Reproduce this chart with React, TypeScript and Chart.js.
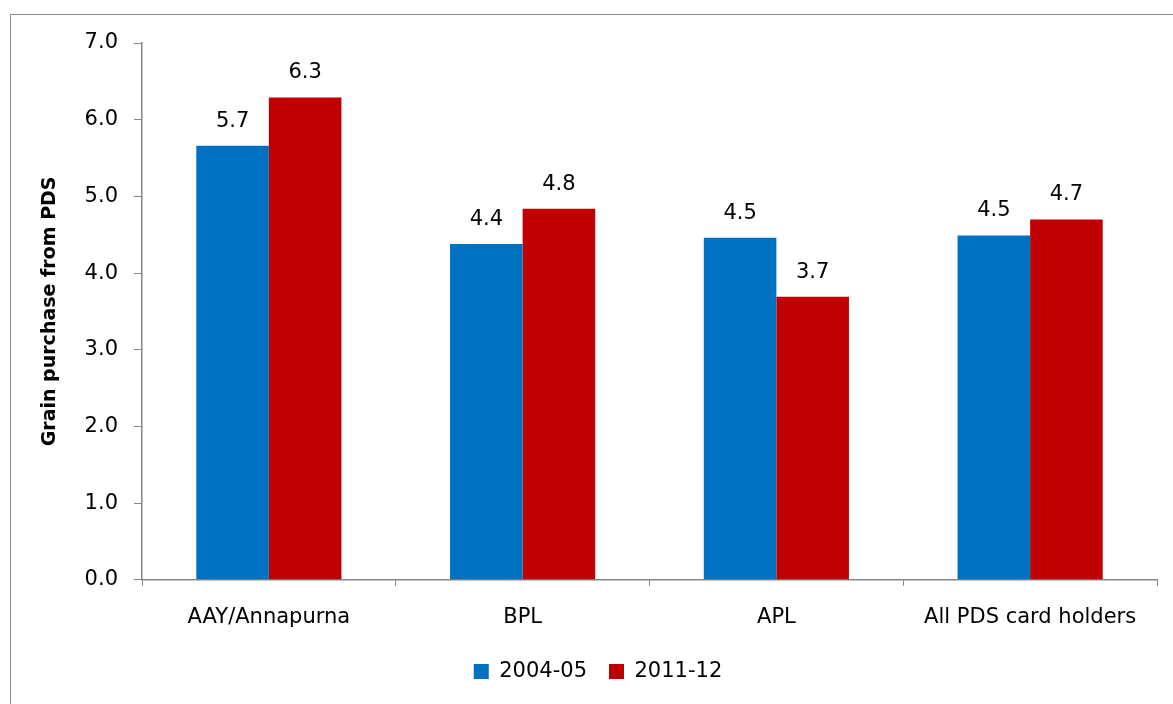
import React, { useEffect, useRef } from "react";
import { Chart, registerables } from "chart.js";

Chart.register(...registerables);

const categories = ["AAY/Annapurna", "BPL", "APL", "All PDS card holders"];
const series2004 = [5.66, 4.38, 4.46, 4.49];
const series2011 = [6.29, 4.84, 3.69, 4.7];
const seriesNames = ["2004-05", "2011-12"];
const yTicks = [0, 1, 2, 3, 4, 5, 6, 7];

const FONT = "'DejaVu Sans', sans-serif";

const dataLabelPlugin = {
  id: "dataLabels",
  afterDatasetsDraw(chart: any) {
    const ctx = chart.ctx;
    ctx.save();
    ctx.font = `21px ${FONT}`;
    ctx.fillStyle = "#000000";
    ctx.textAlign = "center";
    ctx.textBaseline = "bottom";
    chart.data.datasets.forEach((ds: any, i: number) => {
      const meta = chart.getDatasetMeta(i);
      meta.data.forEach((el: any, j: number) => {
        const v = ds.data[j] as number;
        ctx.fillText(v.toFixed(1), el.x, el.y - 14);
      });
    });
    ctx.restore();
  },
};

// tighten the legend's height while keeping the wide horizontal spacing between items
const legendFitPlugin = {
  id: "legendFit",
  afterInit(chart: any) {
    const legend = chart.legend;
    if (!legend) return;
    const origFit = legend.fit;
    legend.fit = function () {
      origFit.call(this);
      this.height = this.height - 8;
    };
    const origDraw = legend.draw;
    legend.draw = function () {
      this.top -= 10;
      origDraw.call(this);
      this.top += 10;
    };
  },
};

export default function App() {
  const ref = useRef<HTMLCanvasElement>(null);
  useEffect(() => {
    if (!ref.current) return;
    const chart = new Chart(ref.current, {
      type: "bar",
      data: {
        labels: categories,
        datasets: [
          {
            label: seriesNames[0],
            data: series2004,
            backgroundColor: "#0070C0",
            categoryPercentage: 0.572,
            barPercentage: 1,
          },
          {
            label: seriesNames[1],
            data: series2011,
            backgroundColor: "#C00000",
            categoryPercentage: 0.572,
            barPercentage: 1,
          },
        ],
      },
      options: {
        responsive: false,
        animation: false,
        layout: { padding: { left: 39, right: 16, top: 43, bottom: 10 } },
        plugins: {
          legend: {
            position: "bottom",
            labels: {
              boxWidth: 15,
              boxHeight: 15,
              color: "#000",
              font: { family: FONT, size: 21 },
              padding: 22,
            },
          },
          tooltip: { enabled: false },
        },
        scales: {
          x: {
            grid: {
              display: true,
              drawOnChartArea: false,
              drawTicks: true,
              tickLength: 6,
              color: "#868686",
            },
            border: { display: true, color: "#868686", width: 1.5 },
            ticks: {
              color: "#000",
              font: { family: FONT, size: 21 },
              padding: 19,
            },
          },
          y: {
            min: 0,
            max: 7,
            afterBuildTicks: (scale: any) => {
              scale.ticks = yTicks.map((v) => ({ value: v }));
            },
            afterFit: (scale: any) => {
              scale.width = 103;
            },
            grid: {
              display: true,
              drawOnChartArea: false,
              drawTicks: true,
              tickLength: 8,
              color: "#868686",
            },
            border: { display: true, color: "#868686", width: 1.5 },
            ticks: {
              color: "#000",
              font: { family: FONT, size: 21 },
              padding: 16,
              callback: (v: any) => Number(v).toFixed(1),
            },
            title: {
              display: true,
              text: "Grain purchase from PDS",
              color: "#000",
              font: { family: FONT, size: 19, weight: "bold" },
              padding: 0,
            },
          },
        },
      },
      plugins: [dataLabelPlugin, legendFitPlugin],
    });
    return () => chart.destroy();
  }, []);

  return (
    <div
      style={{
        position: "absolute",
        left: 0,
        top: 0,
        width: 1173,
        height: 704,
        overflow: "hidden",
        background: "#fff",
      }}
    >
      <canvas ref={ref} width={1173} height={704} style={{ display: "block" }} />
      <div
        style={{
          position: "absolute",
          left: 10,
          top: 14,
          width: 1300,
          height: 900,
          border: "1.5px solid #8a8a8a",
          pointerEvents: "none",
        }}
      />
    </div>
  );
}
